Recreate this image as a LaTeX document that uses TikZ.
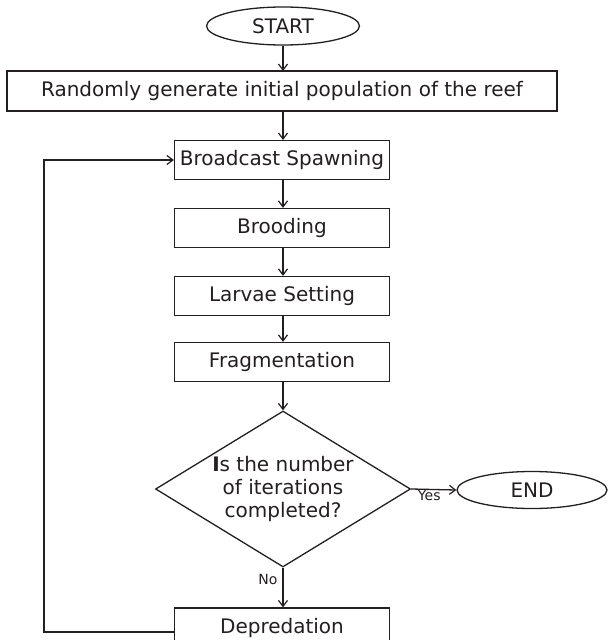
\documentclass[tikz,border=0pt]{standalone}
\usepackage{fontspec}
\setmainfont{DejaVu Sans}
\usetikzlibrary{shapes.geometric,arrows.meta}
\begin{document}
\begin{tikzpicture}[x=1pt,y=-1pt,
  line width=1.3pt, draw={rgb,255:red,35;green,31;blue,32},
  every node/.style={text={rgb,255:red,35;green,31;blue,32}},
  txt/.style={font=\fontsize{20}{23}\selectfont},
  proc/.style={draw, rectangle, minimum width=215pt, minimum height=39pt, inner sep=0pt, txt},
  term/.style={draw, ellipse, inner sep=0pt, txt},
  arr/.style={-{Straight Barb[length=6pt,width=9pt,line width=1.2pt]}},
  lbl/.style={font=\fontsize{14}{16}\selectfont, inner sep=1pt}
]
\useasboundingbox (0,0) rectangle (608,640);
\node[term, minimum width=153pt, minimum height=38pt] (start) at (283,26) {START};
\node[proc, minimum width=550pt, minimum height=40pt] (rand) at (282,91) {Randomly generate initial population of the reef};
\node[proc] (bs) at (282,160) {Broadcast Spawning};
\node[proc] (br) at (282,228) {Brooding};
\node[proc] (ls) at (282,296) {Larvae Setting};
\node[proc] (fr) at (282,362) {Fragmentation};
\node[draw, diamond, minimum width=255pt, minimum height=156pt, aspect=1.63, inner sep=0pt, txt, align=center] (dia) at (283,489)
  {\textbf{I}s the number\\of iterations\\completed?};
\node[term, minimum width=150pt, minimum height=37pt] (end) at (532,490) {END};
\node[proc, minimum height=40pt] (dep) at (282,628) {Depredation};
\coordinate (fbot) at (44,632);
\coordinate (ftop) at (44,160);

\draw[arr] (start.south -| 283,0) -- (283,71);
\draw[arr] (283,111) -- (283,140);
\draw[arr] (bs.south -| 283,0) -- (br.north -| 283,0);
\draw[arr] (br.south -| 283,0) -- (ls.north -| 283,0);
\draw[arr] (ls.south -| 283,0) -- (fr.north -| 283,0);
\draw[arr] (fr.south -| 283,0) -- (dia.north);
\draw[arr] (dia.east) -- node[lbl, below, pos=0.4, yshift=1pt] {Yes} (end.west);
\draw[arr] (dia.south) -- node[lbl, left, pos=0.3, xshift=-4pt] {No} (dep.north -| dia.south);
\draw[arr] (dep.west |- fbot) -- (fbot) -- (ftop) -- (bs.west);
\end{tikzpicture}
\end{document}
